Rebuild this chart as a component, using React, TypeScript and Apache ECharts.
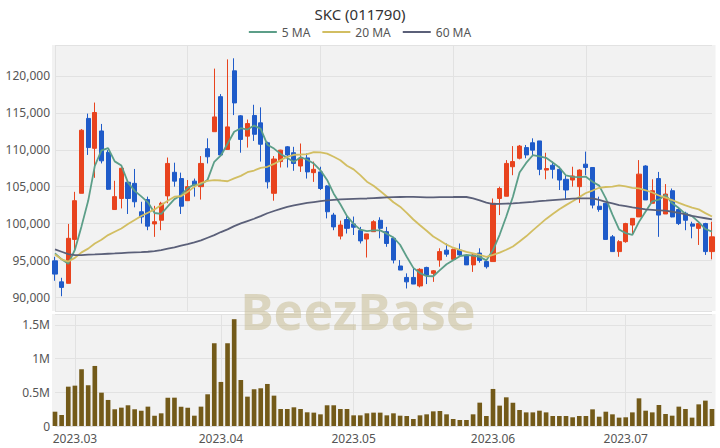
import React, { useEffect, useRef } from 'react';
import * as echarts from 'echarts';

const dates = [
  '2023-02-24', '2023-02-27', '2023-02-28',
  '2023-03-02', '2023-03-03', '2023-03-06', '2023-03-07', '2023-03-08', '2023-03-09', '2023-03-10',
  '2023-03-13', '2023-03-14', '2023-03-15', '2023-03-16', '2023-03-17', '2023-03-20', '2023-03-21',
  '2023-03-22', '2023-03-23', '2023-03-24', '2023-03-27', '2023-03-28', '2023-03-29', '2023-03-30', '2023-03-31',
  '2023-04-03', '2023-04-04', '2023-04-05', '2023-04-06', '2023-04-07', '2023-04-10', '2023-04-11',
  '2023-04-12', '2023-04-13', '2023-04-14', '2023-04-17', '2023-04-18', '2023-04-19', '2023-04-20',
  '2023-04-21', '2023-04-24', '2023-04-25', '2023-04-26', '2023-04-27', '2023-04-28',
  '2023-05-02', '2023-05-03', '2023-05-04', '2023-05-08', '2023-05-09', '2023-05-10', '2023-05-11',
  '2023-05-12', '2023-05-15', '2023-05-16', '2023-05-17', '2023-05-18', '2023-05-19', '2023-05-22',
  '2023-05-23', '2023-05-24', '2023-05-25', '2023-05-26', '2023-05-29', '2023-05-30', '2023-05-31',
  '2023-06-01', '2023-06-02', '2023-06-05', '2023-06-07', '2023-06-08', '2023-06-09', '2023-06-12',
  '2023-06-13', '2023-06-14', '2023-06-15', '2023-06-16', '2023-06-19', '2023-06-20', '2023-06-21',
  '2023-06-22', '2023-06-23', '2023-06-26', '2023-06-27', '2023-06-28', '2023-06-29',
  '2023-07-03', '2023-07-04', '2023-07-05', '2023-07-06', '2023-07-07', '2023-07-10', '2023-07-11',
  '2023-07-12', '2023-07-13', '2023-07-14', '2023-07-17', '2023-07-18', '2023-07-19', '2023-07-20',
];

const opens = [
  94950, 92100, 91900, 97850, 104100, 114250, 110200, 112550, 109650, 101900,
  103400, 105600, 105450, 101600, 103250, 99950, 100450, 103750, 106950, 106100,
  103100, 105750, 105000, 110150, 112450, 117200, 110050, 120700, 114600, 111850,
  114650, 113650, 110950, 104100, 108400, 110400, 109600, 107800, 108900, 106900,
  107000, 105100, 101150, 98300, 100550, 99950, 99050, 97900, 98900, 100450,
  98900, 98000, 94250, 92700, 92700, 91550, 94050, 93250, 95050, 96400,
  95150, 96400, 95650, 94400, 96000, 94850, 94850, 103400, 103700, 107700,
  108850, 110300, 110950, 111200, 107250, 107900, 107350, 106000, 105900, 105000,
  108050, 107600, 102350, 102750, 98200, 96200, 97550, 99800, 100900, 107800,
  102750, 106100, 101300, 104450, 101900, 101400, 99950, 99350, 100000, 96200,
];

const closes = [
  93150, 91350, 98000, 103100, 112650, 110300, 115050, 108500, 104650, 103650,
  107500, 103400, 102950, 100900, 99650, 100250, 102750, 108150, 105750, 102350,
  105000, 105200, 108150, 109050, 114450, 109300, 113100, 116350, 111400, 113550,
  112100, 110750, 105650, 108750, 109950, 109300, 108150, 108850, 107000, 107350,
  104750, 101600, 99550, 99800, 99350, 99500, 97650, 98600, 100250, 99350,
  97300, 95050, 93700, 92100, 91800, 93800, 93000, 93600, 96200, 95850,
  96500, 95750, 94400, 95750, 95000, 94150, 102750, 104750, 108150, 108400,
  110500, 109300, 109950, 107350, 107450, 107350, 105900, 104550, 106450, 107250,
  107600, 102500, 101900, 97850, 96200, 97550, 100000, 100700, 106700, 103200,
  104450, 101150, 104000, 100900, 100000, 100450, 99650, 100000, 96200, 98200,
];

const lows = [
  92250, 90150, 91900, 96400, 104100, 109300, 106200, 108150, 104550, 101850,
  102050, 101300, 102200, 100000, 99100, 98200, 99100, 102750, 105000, 101300,
  103100, 103650, 103250, 108150, 112450, 109150, 110050, 114700, 109600, 110300,
  111200, 108400, 104750, 103100, 107600, 107600, 107150, 107000, 106100, 105650,
  104550, 100700, 99100, 97850, 98650, 98450, 97300, 95400, 98900, 98000,
  96850, 94600, 93700, 91200, 91800, 91350, 91800, 92100, 94150, 95500,
  95100, 95500, 94400, 93450, 94700, 93900, 94850, 101150, 103700, 106550,
  108700, 108850, 109150, 106550, 106000, 106100, 104550, 103250, 105000, 102800,
  106550, 102050, 101600, 97850, 96200, 95500, 97400, 98450, 100900, 103200,
  102750, 98200, 101300, 100850, 99800, 99100, 98000, 97100, 95750, 95150,
];

const highs = [
  95500, 92650, 99950, 104300, 112800, 114900, 116400, 113500, 109950, 105800,
  107600, 105700, 107400, 102950, 103650, 102400, 102950, 108950, 108250, 106900,
  105900, 106100, 109150, 111550, 121000, 117550, 122250, 122400, 114700, 114100,
  116100, 115750, 111100, 109150, 110000, 110500, 110400, 110850, 109500, 108400,
  107700, 105200, 101450, 100400, 101000, 100950, 99550, 98600, 100450, 100850,
  99550, 98200, 95050, 93250, 93950, 93950, 94150, 93700, 96650, 97300,
  96600, 97300, 95850, 95950, 96650, 95050, 103400, 105000, 108600, 110500,
  110650, 110650, 111550, 111200, 109600, 108400, 107700, 106550, 107700, 107350,
  109750, 107600, 103650, 102800, 98450, 97750, 100100, 100700, 108600, 107900,
  106000, 107000, 105350, 104750, 102200, 101600, 100250, 100000, 100100, 100250,
];

// traded volume, thousands of shares
const volumeThousands = [
  212, 163, 583, 598, 841, 604, 890, 494, 386, 248,
  272, 307, 248, 227, 287, 153, 188, 420, 420, 287,
  272, 153, 287, 470, 1227, 653, 1227, 1583, 683, 435,
  544, 559, 623, 450, 252, 252, 277, 252, 203, 198,
  173, 307, 307, 252, 252, 158, 158, 188, 198, 198,
  158, 188, 153, 148, 104, 158, 173, 217, 222, 173,
  104, 89, 89, 173, 346, 148, 549, 302, 425, 346,
  237, 202, 202, 227, 202, 148, 148, 148, 129, 148,
  148, 247, 138, 212, 173, 124, 129, 202, 410, 227,
  202, 311, 178, 153, 287, 252, 124, 321, 376, 252,
];

// moving-average values before enough closes are in view
const ma5Head = [95950, 95150, 94550, 96450];
const ma20Head = [
  95800, 95150, 94850, 95350, 96100, 96600, 97300, 97800, 98440, 98890,
  99340, 99930, 100470, 101020, 101470, 101920, 102500, 103090, 103640,
];
const ma60 = [
  96490, 96180, 95870, 95730, 95730, 95780, 95820, 95870, 95910, 95950,
  96000, 96050, 96090, 96130, 96180, 96270, 96400, 96590, 96770, 97000,
  97220, 97450, 97720, 98080, 98440, 98850, 99210, 99660, 100020, 100340,
  100650, 101000, 101400, 101700, 102000, 102250, 102450, 102640, 102800, 102920,
  103040, 103150, 103220, 103270, 103310, 103340, 103370, 103400, 103450, 103500,
  103540, 103570, 103600, 103630, 103620, 103590, 103550, 103560, 103580, 103590,
  103600, 103620, 103600, 103400, 103150, 102850, 102650, 102660, 102700, 102730,
  102800, 102880, 102950, 103030, 103100, 103180, 103250, 103320, 103370, 103410,
  103410, 103410, 103200, 102950, 102730, 102500, 102350, 102190, 102050, 101920,
  101860, 101800, 101740, 101600, 101460, 101250, 101030, 100880, 100720, 100560,
];

const legendNames = ['5 MA', '20 MA', '60 MA'];

function movingAverage(values: number[], n: number, head: number[]): number[] {
  return values.map((_, i) => {
    if (i < n - 1) return head[i];
    let s = 0;
    for (let k = i - n + 1; k <= i; k++) s += values[k];
    return Math.round(s / n);
  });
}

const isMonthStart = (i: number) => i > 0 && dates[i].slice(0, 7) !== dates[i - 1].slice(0, 7);

const UP = '#E8431E';
const DOWN = '#1F5BC9';
const GRID_BG = '#f2f2f2';
const SPLIT = '#e2e2e2';
const FONT = 'Noto Sans';

export default function App() {
  const ref = useRef<HTMLDivElement>(null);

  useEffect(() => {
    const chart = echarts.init(ref.current!, undefined, { renderer: 'svg' });
    const candleData = opens.map((o, i) => [o, closes[i], lows[i], highs[i]]);
    const ma5 = movingAverage(closes, 5, ma5Head);
    const ma20 = movingAverage(closes, 20, ma20Head);
    const volumes = volumeThousands.map((v) => v * 1000);

    const option: any = {
      animation: false,
      textStyle: { fontFamily: FONT },
      title: {
        text: 'SKC (011790)',
        left: 'center',
        top: 1,
        textStyle: { fontSize: 15, fontWeight: 'normal', color: '#333', fontFamily: FONT },
      },
      legend: {
        data: legendNames,
        top: 21,
        left: 'center',
        icon: 'rect',
        itemWidth: 28,
        itemHeight: 2,
        itemGap: 12,
        textStyle: { fontSize: 12, color: '#555', fontFamily: FONT },
      },
      graphic: {
        elements: [
          {
            type: 'rect', silent: true, z: -10,
            shape: { x: 52, y: 45, width: 663.5, height: 266 },
            style: { fill: GRID_BG },
          },
          {
            type: 'rect', silent: true, z: -10,
            shape: { x: 52, y: 314, width: 663.5, height: 112 },
            style: { fill: GRID_BG },
          },
          {
            type: 'text', silent: true, z: 100,
            x: 358, y: 311,
            style: {
              text: 'BeezBase',
              fontSize: 50,
              fontWeight: 'bold',
              fontFamily: FONT,
              fill: 'rgba(196,184,140,0.5)',
              textAlign: 'center',
              textVerticalAlign: 'middle',
            },
          },
        ],
      },
      grid: [
        { left: 55, right: 8, top: 45, height: 266 },
        { left: 55, right: 8, top: 314, height: 112 },
      ],
      xAxis: [
        {
          type: 'category', gridIndex: 0, data: dates, boundaryGap: false,
          axisLine: { show: false }, axisTick: { show: false }, axisLabel: { show: false },
          splitLine: { show: true, interval: (i: number) => i % 20 === 0, lineStyle: { color: SPLIT, width: 1 } },
        },
        {
          type: 'category', gridIndex: 1, data: dates, boundaryGap: false,
          axisLine: { show: false }, axisTick: { show: false },
          axisLabel: {
            interval: (i: number) => isMonthStart(i),
            formatter: (v: string) => v.slice(0, 7).replace('-', '.'),
            color: '#555', fontSize: 12, margin: 6, fontFamily: FONT,
          },
          splitLine: { show: true, interval: (i: number) => isMonthStart(i), lineStyle: { color: SPLIT, width: 1 } },
        },
      ],
      yAxis: [
        {
          type: 'value', gridIndex: 0, min: 88150, max: 124200, splitNumber: 7, scale: true,
          axisLine: { show: false }, axisTick: { show: false },
          axisLabel: { color: '#555', fontSize: 12, margin: 5, showMinLabel: false, showMaxLabel: false, fontFamily: FONT },
          splitLine: { lineStyle: { color: SPLIT, width: 1 } },
        },
        {
          type: 'value', gridIndex: 1, min: 0, max: 1660000, splitNumber: 3,
          axisLine: { show: false }, axisTick: { show: false },
          axisLabel: {
            color: '#555', fontSize: 12, margin: 5, showMaxLabel: false, fontFamily: FONT,
            formatter: (v: number) => (v === 0 ? '0' : `${v / 1000000}M`),
          },
          splitLine: { lineStyle: { color: SPLIT, width: 1 } },
        },
      ],
      series: [
        {
          type: 'candlestick', name: 'SKC', xAxisIndex: 0, yAxisIndex: 0,
          data: candleData, barWidth: 4.6, clip: false,
          itemStyle: { color: UP, color0: DOWN, borderColor: UP, borderColor0: DOWN, borderWidth: 1 },
        },
        {
          type: 'line', name: '5 MA', data: ma5, xAxisIndex: 0, yAxisIndex: 0,
          symbol: 'none', showSymbol: false, clip: false,
          lineStyle: { color: '#5C9E88', width: 1.8 }, itemStyle: { color: '#5C9E88' },
        },
        {
          type: 'line', name: '20 MA', data: ma20, xAxisIndex: 0, yAxisIndex: 0,
          symbol: 'none', showSymbol: false, clip: false,
          lineStyle: { color: '#D2BE62', width: 1.8 }, itemStyle: { color: '#D2BE62' },
        },
        {
          type: 'line', name: '60 MA', data: ma60, xAxisIndex: 0, yAxisIndex: 0,
          symbol: 'none', showSymbol: false, clip: false,
          lineStyle: { color: '#5B6079', width: 1.8 }, itemStyle: { color: '#5B6079' },
        },
        {
          type: 'bar', name: 'Volume', data: volumes, xAxisIndex: 1, yAxisIndex: 1,
          barWidth: '70%', clip: false,
          itemStyle: { color: '#735A19' },
        },
      ],
    };

    chart.setOption(option);
    return () => chart.dispose();
  }, []);

  return <div ref={ref} style={{ position: 'absolute', left: 0, top: 0, width: 720, height: 448 }} />;
}
